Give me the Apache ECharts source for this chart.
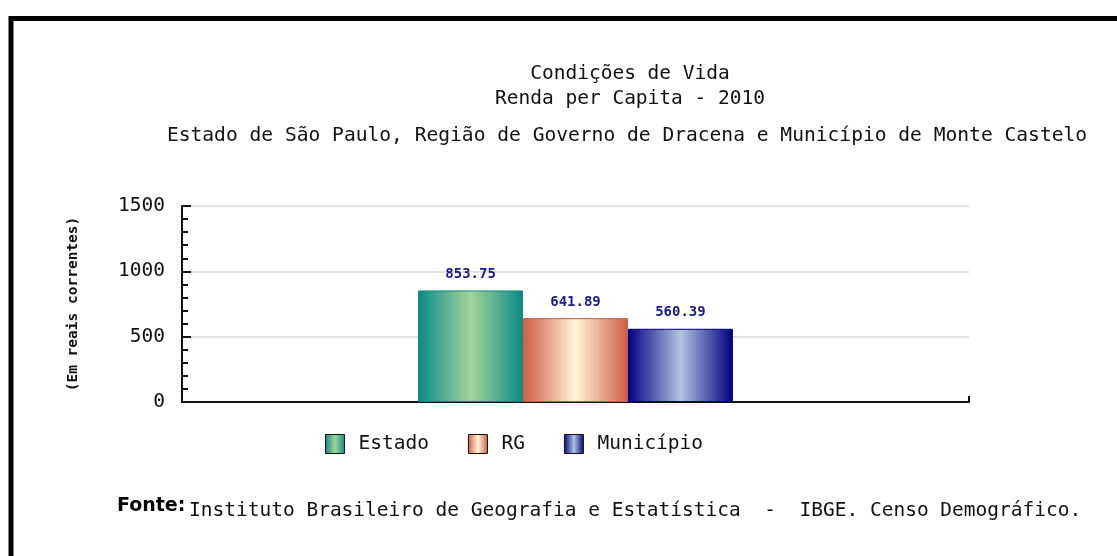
<!DOCTYPE html>
<html>
<head>
<meta charset="utf-8">
<script src="https://cdn.jsdelivr.net/npm/echarts@6/dist/echarts.min.js"></script>
<style>
  html, body { margin: 0; padding: 0; background: #fff; }
  #renda-chart { width: 1117px; height: 556px; }
</style>
</head>
<body>
<div id="renda-chart"></div>
<script>
// dados
const categorias = [''];
const nomesSeries = ['Estado', 'RG', 'Município'];
const valoresEstado = [853.75];
const valoresRG = [641.89];
const valoresMunicipio = [560.39];
const rotulosY = [0, 500, 1000, 1500];

const mono = 'DejaVu Sans Mono';

// gradiente horizontal: borda - centro - borda
const grad = (borda, centro) => ({
    type: 'linear', x: 0, y: 0, x2: 1, y2: 0,
    colorStops: [
        { offset: 0, color: borda },
        { offset: 0.5, color: centro },
        { offset: 1, color: borda }
    ]
});

const coresBorda = ['#0a8a84', '#cd5c43', '#000080'];
const coresCentro = ['#a2d49c', '#fff4d8', '#b2c3de'];
const valores = [valoresEstado, valoresRG, valoresMunicipio];

const rendaChart = echarts.init(document.getElementById('renda-chart'));

const rendaOption = {
    animation: false,
    title: [
        {
            text: 'Condições de Vida',
            left: 625, top: 59, textAlign: 'center',
            textStyle: { fontFamily: mono, fontSize: 19.5, fontWeight: 'normal', color: '#111' }
        },
        {
            text: 'Renda per Capita - 2010',
            left: 625, top: 84, textAlign: 'center',
            textStyle: { fontFamily: mono, fontSize: 19.5, fontWeight: 'normal', color: '#111' }
        },
        {
            text: 'Estado de São Paulo, Região de Governo de Dracena e Município de Monte Castelo',
            left: 622, top: 121, textAlign: 'center',
            textStyle: { fontFamily: mono, fontSize: 19.6, fontWeight: 'normal', color: '#111' }
        }
    ],
    grid: {
        left: 182,
        right: 148,
        top: 206,
        bottom: 154
    },
    legend: {
        data: nomesSeries,
        left: 320,
        top: 429,
        icon: 'rect',
        itemWidth: 19,
        itemHeight: 19,
        itemGap: 39,
        textStyle: { fontFamily: mono, fontSize: 19.5, color: '#111', padding: [0, 0, 0, 9] },
        itemStyle: { borderColor: '#111', borderWidth: 1 }
    },
    xAxis: {
        type: 'category',
        data: categorias,
        axisLine: { lineStyle: { color: '#111', width: 2 } },
        axisTick: { show: true, inside: true, length: 6, lineStyle: { color: '#111', width: 2 } },
        axisLabel: { show: false },
        splitLine: { show: false }
    },
    yAxis: {
        type: 'value',
        min: rotulosY[0],
        max: rotulosY[rotulosY.length - 1],
        interval: 500,
        name: '(Em reais correntes)',
        nameLocation: 'middle',
        nameRotate: 90,
        nameGap: 101,
        nameTextStyle: { fontFamily: mono, fontSize: 14.5, fontWeight: 'bold', color: '#111' },
        axisLine: { show: true, lineStyle: { color: '#111', width: 2 } },
        axisTick: { show: true, inside: true, length: 9, lineStyle: { color: '#111', width: 2 } },
        minorTick: { show: true, splitNumber: 5, length: 6, lineStyle: { color: '#111', width: 2 } },
        axisLabel: { fontFamily: mono, fontSize: 19.5, color: '#111', margin: 17, formatter: v => String(v) },
        splitLine: { lineStyle: { color: '#e2e2e2', width: 2 } }
    },
    series: nomesSeries.map((nome, i) => ({
        name: nome,
        type: 'bar',
        data: valores[i],
        barGap: '0%',
        barCategoryGap: '60%',
        itemStyle: {
            color: grad(coresBorda[i], coresCentro[i]),
            borderColor: coresBorda[i],
            borderWidth: 1
        },
        label: {
            show: true,
            position: 'top',
            distance: 9,
            fontFamily: mono,
            fontSize: 14,
            fontWeight: 'bold',
            color: '#1a1a8c'
        }
    })),
    graphic: [
        {
            type: 'rect',
            shape: { x: 11, y: 18.5, width: 1200, height: 700 },
            style: { fill: 'none', stroke: '#000', lineWidth: 5 }
        },
        {
            type: 'text',
            left: 117, top: 497,
            style: { text: 'Fonte:', font: 'bold 19px "DejaVu Sans"', fill: '#000' }
        },
        {
            type: 'text',
            left: 189, top: 501,
            style: {
                text: 'Instituto Brasileiro de Geografia e Estatística  -  IBGE. Censo Demográfico.',
                font: '19.5px "DejaVu Sans Mono"', fill: '#111'
            }
        }
    ]
};

rendaChart.setOption(rendaOption);
</script>
</body>
</html>
